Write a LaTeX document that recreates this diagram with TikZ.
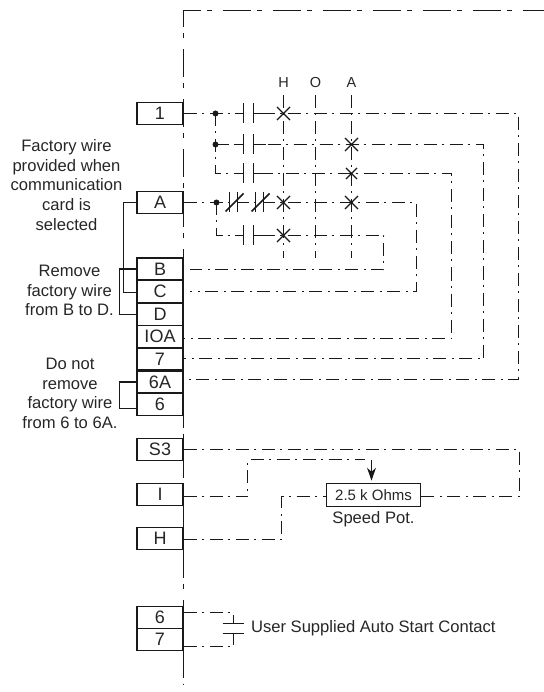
\documentclass[tikz,border=0pt]{standalone}
\usepackage{fontspec}
\setmainfont{Liberation Sans}
\usetikzlibrary{arrows.meta,shapes.misc}
\newcommand{\nocontact}[2]{%
  \fill[white] (#1-5,#2-3) rectangle (#1+5,#2+3);
  \draw[plate line] (#1-5,#2-10) -- (#1-5,#2+10);
  \draw[plate line] (#1+5,#2-10) -- (#1+5,#2+10);
  \draw[lead line] (#1-14,#2) -- (#1-5,#2);
  \draw[lead line] (#1+5,#2) -- (#1+17,#2);}
\newcommand{\nccontact}[2]{%
  \fill[white] (#1-4,#2-3) rectangle (#1+4,#2+3);
  \draw[plate line] (#1-4,#2-10) -- (#1-4,#2+10);
  \draw[plate line] (#1+4,#2-10) -- (#1+4,#2+10);
  \draw[plate line] (#1-8,#2+9) -- (#1+10,#2-9);}

\begin{document}
\begin{tikzpicture}[x=1pt,y=-1pt,
    term node/.style={rectangle,draw=black!90,line width=1.7pt,fill=white,minimum width=46pt,minimum height=22pt,inner sep=0pt,font=\fontsize{18}{18}\selectfont,text=black!85},
    note node/.style={align=center,font=\fontsize{16.6}{19.7}\selectfont,text=black!85},
    col node/.style={font=\fontsize{14.5}{14.5}\selectfont,text=black!85},
    cross node/.style={cross out,draw=black!90,line width=1.1pt,minimum size=12pt,inner sep=0pt},
    dot node/.style={circle,fill=black!90,minimum size=6pt,inner sep=0pt},
    border line/.style={draw=black!90,line width=1.7pt,dash pattern=on 28pt off 6pt on 5pt off 11pt},
    wire line/.style={draw=black!90,line width=1.25pt,dash pattern=on 13pt off 5pt on 2pt off 6pt},
    jump line/.style={draw=black!90,line width=1.3pt},
    plate line/.style={draw=black!90,line width=1.7pt},
    lead line/.style={draw=black!90,line width=1.25pt}]
    \useasboundingbox (-0.5,-0.5) rectangle (542.5,691.5);

    % enclosure
    \coordinate (tl) at (183,10);
    \coordinate (tr) at (543,10);
    \coordinate (bl) at (183,684);
    \draw[border line,dash phase=11pt] (tl) -- (tr);
    \draw[border line,dash phase=11pt] (tl) -- (bl);

    % selector columns
    \node[col node] (H) at (283,82) {H};
    \node[col node] (O) at (315,82) {O};
    \node[col node] (Acol) at (351,82) {A};
    \coordinate (Hb) at (283,258);
    \coordinate (Ob) at (315,258);
    \coordinate (Ab) at (351,258);
    \draw[wire line] (283,95) -- (Hb);
    \draw[wire line] (315,95) -- (Ob);
    \draw[wire line] (351,95) -- (Ab);

    % terminals
    \node[term node] (T1) at (159.5,113) {1};
    \node[term node] (TA) at (159.5,202) {A};
    \node[term node] (TB) at (159.5,268.5) {B};
    \node[term node] (TC) at (159.5,291) {C};
    \node[term node] (TD) at (159.5,314) {D};
    \node[term node] (TIOA) at (159.5,336) {IOA};
    \node[term node] (T7) at (159.5,358.5) {7};
    \node[term node] (T6A) at (159.5,381.5) {6A};
    \node[term node] (T6) at (159.5,404) {6};
    \node[term node] (TS3) at (159.5,449) {S3};
    \node[term node] (TI) at (159.5,494) {I};
    \node[term node] (TH) at (159.5,538) {H};
    \node[term node] (T6b) at (159.5,617) {6};
    \node[term node] (T7b) at (159.5,639) {7};
    \node[rectangle,draw=black!90,line width=1.7pt,fill=white,minimum width=94pt,minimum height=23pt,inner sep=0pt,font=\fontsize{15}{15}\selectfont,text=black!85] (pot) at (373,494.5) {2.5 k Ohms};

    % ladder rungs
    \coordinate (j1) at (215,113);
    \coordinate (j2) at (215,144);
    \coordinate (j3) at (215,173);
    \coordinate (j4) at (216,202);
    \coordinate (j5) at (216,235);
    \coordinate (r1) at (518,113);
    \coordinate (r2) at (483,144);
    \coordinate (r3) at (451,173);
    \coordinate (r4) at (416,202);
    \coordinate (r5) at (383,235);
    \coordinate (e1) at (183,379);
    \coordinate (e2) at (183,358);
    \coordinate (e3) at (183,338);
    \coordinate (e4) at (189,291);
    \coordinate (e5) at (189,269);
    \draw[wire line] (T1.east) -- (r1) -- (r1 |- e1) -- (e1);
    \draw[wire line] (j2) -- (r2) -- (r2 |- e2) -- (e2);
    \draw[wire line] (j1) -- (j3) -- (r3) -- (r3 |- e3) -- (e3);
    \draw[wire line] (TA.east) -- (r4) -- (r4 |- e4) -- (e4);
    \draw[wire line] (j4) -- (j5) -- (r5) -- (r5 |- e5) -- (e5);

    % contacts
    \nocontact{248}{113}
    \nocontact{248}{144}
    \nocontact{248}{173}
    \nocontact{248}{235}
    \nccontact{233}{202}
    \nccontact{259}{202}
    \draw[lead line] (j2) -- ++(12,0);
    \draw[lead line] (j4) -- ++(0,9);

    % crosses
    \node[cross node] (x1) at (283,113) {};
    \node[cross node] (x2) at (351,144) {};
    \node[cross node,minimum size=10pt] (x3) at (351,173) {};
    \node[cross node] (x4) at (283,202) {};
    \node[cross node] (x5) at (351,202) {};
    \node[cross node] (x6) at (283,235) {};
    \node[dot node] (d1) at (j1) {};
    \node[dot node] (d2) at (j2) {};
    \node[dot node] (d3) at (j4) {};

    % factory wires
    \draw[jump line] (TA.west) -- (123,202) -- (123,292) -- (136.5,292);
    \draw[jump line] (TB.west) -- (119,268.5) -- (119,314) -- (TD.west);
    \draw[jump line] (T6A.west) -- (119,381.5) -- (119,408) -- (136.5,408);

    % speed pot
    \coordinate (s1) at (519,449);
    \coordinate (s2) at (519,496);
    \coordinate (i0) at (183,496);
    \coordinate (i1) at (247,496);
    \coordinate (i2) at (247,459);
    \coordinate (i3) at (364,459);
    \coordinate (i4) at (371,459);
    \coordinate (h0) at (183,539);
    \coordinate (h1) at (281,539);
    \coordinate (h2) at (281,496);
    \draw[wire line] (TS3.east) -- (s1) -- (s2) -- (pot.east |- s2);
    \draw[wire line] (i0) -- (i1) -- (i2) -- (i3);
    \draw[wire line] (h0) -- (h1) -- (h2) -- (pot.west |- h2);
    \draw[-{Stealth[length=13pt,width=9pt]},lead line,shorten >=2pt] (i4) -- (i4 |- pot.north);
    \node[note node] (potlabel) at (373,519) {Speed Pot.};

    % auto start contact
    \coordinate (c0) at (183,612);
    \coordinate (c1) at (233,612);
    \coordinate (c2) at (233,623);
    \coordinate (c3) at (183,646);
    \coordinate (c4) at (233,646);
    \coordinate (c5) at (233,633);
    \draw[wire line] (c0) -- (c1) -- (c2);
    \draw[wire line] (c3) -- (c4) -- (c5);
    \draw[plate line] (222,623) -- (243,623);
    \draw[plate line] (222,633) -- (243,633);
    \node[note node,anchor=west] (autolabel) at (247,628) {User Supplied Auto Start Contact};

    % notes
    \node[note node] (note1) at (66,184.5) {Factory wire\\provided when\\communication\\card is\\selected};
    \node[note node] (note2) at (69,290) {Remove\\factory wire\\from B to D.};
    \node[note node] (note3) at (69.5,393) {Do not\\remove\\factory wire\\from 6 to 6A.};
\end{tikzpicture}
\end{document}
